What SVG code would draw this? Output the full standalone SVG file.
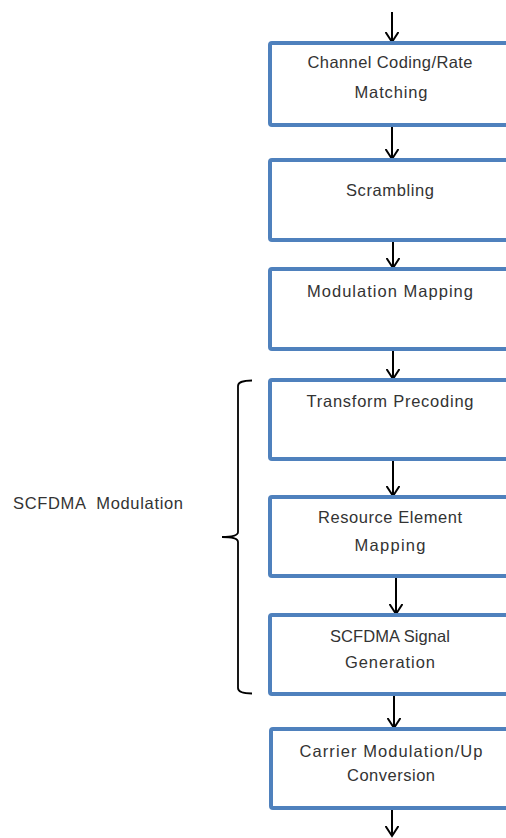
<svg xmlns="http://www.w3.org/2000/svg" width="506" height="838" viewBox="0 0 506 838">
<style>
.box{fill:#fff;stroke:#4f81bd;stroke-width:4}
.t{font-family:"Liberation Sans",Arial,sans-serif;font-size:16.5px;fill:#333;text-anchor:middle}
.c{stroke:#000;stroke-width:2;fill:none}
</style>
<defs>
<marker id="ah" markerWidth="12" markerHeight="14" refX="10" refY="7" orient="auto" markerUnits="userSpaceOnUse" viewBox="0 0 12 14">
<path d="M0,0.5 L10,7 L0,13.5" fill="none" stroke="#000" stroke-width="2"/>
</marker>
</defs>
<rect width="506" height="838" fill="#fff"/>
<g id="connectors">
<line class="c" x1="392" y1="12" x2="392" y2="42" marker-end="url(#ah)"/>
<line class="c" x1="392" y1="126" x2="392" y2="159" marker-end="url(#ah)"/>
<line class="c" x1="393" y1="241" x2="393" y2="268" marker-end="url(#ah)"/>
<line class="c" x1="393" y1="350" x2="393" y2="379" marker-end="url(#ah)"/>
<line class="c" x1="393" y1="460" x2="393" y2="496" marker-end="url(#ah)"/>
<line class="c" x1="396" y1="577" x2="396" y2="614" marker-end="url(#ah)"/>
<line class="c" x1="394" y1="695" x2="394" y2="728" marker-end="url(#ah)"/>
<line class="c" x1="392" y1="809" x2="392" y2="836" marker-end="url(#ah)"/>
</g>
<g id="n1"><rect class="box" x="270" y="43" width="244" height="82" rx="2"/>
<text class="t" x="390" y="68" textLength="165" lengthAdjust="spacing">Channel Coding/Rate</text>
<text class="t" x="391" y="98" textLength="73" lengthAdjust="spacing">Matching</text></g>
<g id="n2"><rect class="box" x="270" y="160" width="244" height="80" rx="2"/>
<text class="t" x="390" y="196" textLength="88" lengthAdjust="spacing">Scrambling</text></g>
<g id="n3"><rect class="box" x="270" y="269" width="244" height="80" rx="2"/>
<text class="t" x="390" y="297" textLength="166" lengthAdjust="spacing">Modulation Mapping</text></g>
<g id="n4"><rect class="box" x="270" y="380" width="244" height="79" rx="2"/>
<text class="t" x="390" y="407" textLength="167" lengthAdjust="spacing">Transform Precoding</text></g>
<g id="n5"><rect class="box" x="270" y="497" width="244" height="79" rx="2"/>
<text class="t" x="390" y="523" textLength="144" lengthAdjust="spacing">Resource Element</text>
<text class="t" x="390" y="551" textLength="71" lengthAdjust="spacing">Mapping</text></g>
<g id="n6"><rect class="box" x="270" y="615" width="244" height="79" rx="2"/>
<text class="t" x="390" y="642" textLength="120" lengthAdjust="spacing">SCFDMA Signal</text>
<text class="t" x="390" y="668" textLength="90" lengthAdjust="spacing">Generation</text></g>
<g id="n7"><rect class="box" x="271" y="729" width="244" height="79" rx="2"/>
<text class="t" x="391" y="757" textLength="183" lengthAdjust="spacing">Carrier Modulation/Up</text>
<text class="t" x="391" y="781" textLength="88" lengthAdjust="spacing">Conversion</text></g>
<g id="bracket">
<path d="M252,380.5 Q238,380.5 238,386 L238,532 Q238,537 222,537 Q238,537 238,542 L238,688 Q238,693.5 252,693.5" fill="none" stroke="#000" stroke-width="1.8"/>
<text x="13" y="509" font-family="Liberation Sans, Arial, sans-serif" font-size="16.5" fill="#333" textLength="170" lengthAdjust="spacing" xml:space="preserve">SCFDMA  Modulation</text>
</g>
</svg>
